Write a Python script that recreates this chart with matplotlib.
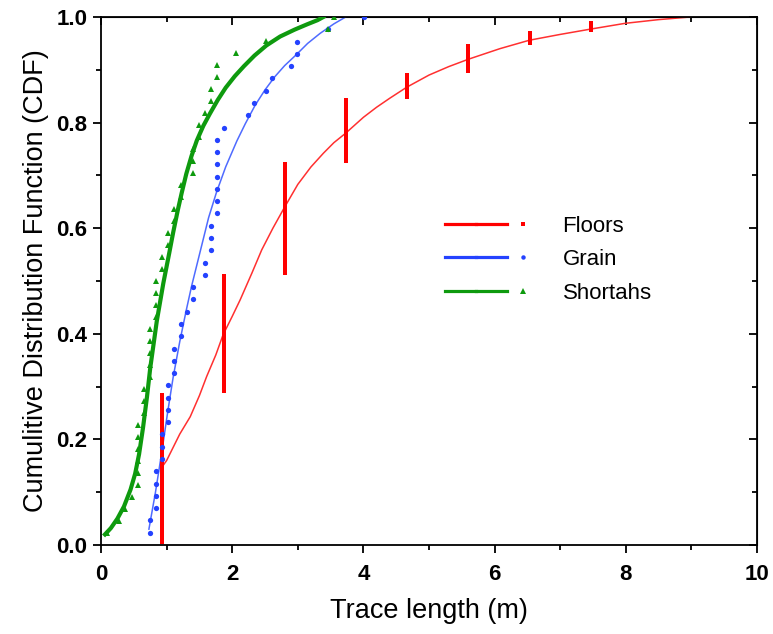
import numpy as np
import matplotlib.pyplot as plt
from matplotlib.lines import Line2D
from matplotlib.legend_handler import HandlerTuple
from matplotlib.ticker import MultipleLocator, NullFormatter

plt.rcParams['font.family'] = ['Liberation Sans', 'DejaVu Sans']

# Floors: measured trace lengths (m) and number of traces at each length
floor_len = [0.933, 1.867, 2.800, 3.733, 4.667, 5.600, 6.533, 7.467]
floor_cnt = [47, 37, 35, 20, 8, 9, 4, 3]
n_floors = 165

# Grain: sorted trace lengths (m)
grain_len = [0.747, 0.747, 0.840, 0.840, 0.840, 0.840, 0.933, 0.933, 0.933,
             1.027, 1.027, 1.027, 1.027, 1.120, 1.120, 1.120, 1.213, 1.213,
             1.307, 1.400, 1.400, 1.587, 1.587, 1.680, 1.680, 1.680, 1.773,
             1.773, 1.773, 1.773, 1.773, 1.773, 1.773, 1.867, 2.240, 2.333,
             2.520, 2.613, 2.893, 2.987, 2.987, 3.453, 4.013]

# Shortahs: sorted trace lengths (m)
shortahs_len = [0.093, 0.280, 0.373, 0.467, 0.560, 0.560, 0.560, 0.560, 0.560,
                0.560, 0.653, 0.653, 0.653, 0.747, 0.747, 0.747, 0.747, 0.747,
                0.840, 0.840, 0.840, 0.840, 0.933, 0.933, 1.027, 1.027, 1.120,
                1.120, 1.213, 1.213, 1.400, 1.400, 1.400, 1.493, 1.493, 1.587,
                1.680, 1.680, 1.773, 1.773, 2.053, 2.520, 3.453, 3.547]

# fitted CDF curves
floor_fit_x = [0.92, 1.00, 1.08, 1.20, 1.36, 1.50, 1.61, 1.75, 1.86, 2.00, 2.12,
               2.30, 2.45, 2.62, 2.79, 3.00, 3.20, 3.39, 3.55, 3.73, 4.00, 4.20,
               4.40, 4.66, 5.00, 5.30, 5.60, 6.08, 6.53, 7.00, 7.46, 7.99, 8.50, 8.98]
floor_fit_y = [0.146, 0.16, 0.18, 0.21, 0.243, 0.283, 0.319, 0.36, 0.398, 0.433,
               0.464, 0.515, 0.559, 0.60, 0.638, 0.683, 0.716, 0.742, 0.762, 0.78,
               0.810, 0.829, 0.846, 0.867, 0.89, 0.906, 0.92, 0.94, 0.956, 0.967,
               0.977, 0.988, 0.995, 1.0]

grain_fit_x = [0.73, 0.83, 0.925, 1.02, 1.10, 1.20, 1.30, 1.38, 1.46, 1.54, 1.64,
               1.76, 1.90, 2.07, 2.20, 2.35, 2.50, 2.65, 2.80, 2.98, 3.15, 3.34,
               3.55, 3.73]
grain_fit_y = [0.03, 0.10, 0.175, 0.255, 0.318, 0.385, 0.445, 0.49, 0.53, 0.57,
               0.62, 0.668, 0.716, 0.765, 0.798, 0.833, 0.862, 0.887, 0.908, 0.929,
               0.95, 0.969, 0.987, 1.0]

shortahs_fit_x = [0.06, 0.15, 0.25, 0.35, 0.45, 0.52, 0.58, 0.64, 0.70, 0.75, 0.85,
                  0.95, 1.04, 1.10, 1.17, 1.23, 1.30, 1.38, 1.46, 1.56, 1.66, 1.78,
                  1.90, 2.04, 2.18, 2.34, 2.52, 2.73, 2.95, 3.14, 3.30, 3.39]
shortahs_fit_y = [0.02, 0.032, 0.05, 0.073, 0.105, 0.135, 0.172, 0.222, 0.28, 0.335,
                  0.424, 0.496, 0.553, 0.592, 0.634, 0.667, 0.703, 0.737, 0.766,
                  0.794, 0.817, 0.843, 0.866, 0.888, 0.907, 0.927, 0.946, 0.963,
                  0.976, 0.986, 0.994, 1.0]

# empirical CDFs
fx = np.repeat(floor_len, floor_cnt)
fy = np.arange(1, len(fx) + 1) / n_floors
gx = np.array(grain_len)
gy = np.arange(1, len(gx) + 1) / len(gx)
sx = np.array(shortahs_len)
sy = np.arange(1, len(sx) + 1) / len(sx)

red, blue, green = '#FF0000', '#2442FF', '#0E9A0E'

fig = plt.figure(figsize=(7.73, 6.34), dpi=100)
ax = fig.add_axes([0.1307, 0.1404, 0.8486, 0.8328])

ax.plot(floor_fit_x, floor_fit_y, color='#FF3030', lw=1.1, zorder=2)
ax.plot(fx, fy, ls='none', marker='s', ms=2.4, color=red, mew=0, zorder=3)
ax.plot(grain_fit_x, grain_fit_y, color='#4F6BFF', lw=1.1, zorder=2)
ax.plot(gx, gy, ls='none', marker='o', ms=3.8, color=blue, mew=0, zorder=3)
ax.plot(sx, sy, ls='none', marker='^', ms=4.6, color=green, mew=0, zorder=3)
ax.plot(shortahs_fit_x, shortahs_fit_y, color=green, lw=3.0, zorder=4,
        solid_joinstyle='round')

ax.set_xlim(0, 10)
ax.set_ylim(0, 1.0)
ax.xaxis.set_major_locator(MultipleLocator(2))
ax.xaxis.set_minor_locator(MultipleLocator(1))
ax.yaxis.set_major_locator(MultipleLocator(0.2))
ax.yaxis.set_minor_locator(MultipleLocator(0.1))
ax.yaxis.set_major_formatter(lambda v, p: f'{v:.1f}')
ax.tick_params(which='major', direction='out', length=6, width=1.3, labelsize=16)
ax.tick_params(axis='x', pad=8)
ax.tick_params(axis='y', pad=4)
ax.tick_params(which='minor', direction='out', length=3.5, width=1.3)
for lbl in ax.get_xticklabels() + ax.get_yticklabels():
    lbl.set_fontweight('bold')
for sp in ax.spines.values():
    sp.set_linewidth(1.3)

# mirrored ticks pointing inward on top and right
top = ax.secondary_xaxis('top')
top.xaxis.set_major_locator(MultipleLocator(2))
top.xaxis.set_minor_locator(MultipleLocator(1))
top.xaxis.set_major_formatter(NullFormatter())
top.tick_params(which='major', direction='in', length=6, width=1.3)
top.tick_params(which='minor', direction='in', length=3.5, width=1.3)
right = ax.secondary_yaxis('right')
right.yaxis.set_major_locator(MultipleLocator(0.2))
right.yaxis.set_minor_locator(MultipleLocator(0.1))
right.yaxis.set_major_formatter(NullFormatter())
right.tick_params(which='major', direction='in', length=6, width=1.3)
right.tick_params(which='minor', direction='in', length=3.5, width=1.3)

ax.set_xlabel('Trace length (m)', fontsize=19.5, labelpad=9)
ax.set_ylabel('Cumulitive Distribution Function (CDF)', fontsize=19.5, labelpad=5)

# legend: line, then marker, then label
handles = []
for c, mk, ms in [(red, 's', 2.6), (blue, 'o', 3.2), (green, '^', 3.8)]:
    ln = Line2D([], [], color=c, lw=2.3)
    pt = Line2D([], [], ls='none', marker=mk, ms=ms, color=c, mew=0)
    handles.append((ln, ln, pt))
ax.legend(handles, ['Floors', 'Grain', 'Shortahs'],
          handler_map={tuple: HandlerTuple(ndivide=None, pad=0)},
          loc='upper left', bbox_to_anchor=(0.524, 0.624), frameon=False,
          fontsize=16, handlelength=4.2, handletextpad=1.1, labelspacing=0.57,
          borderpad=0, borderaxespad=0)

plt.savefig('out.png', dpi=100)
